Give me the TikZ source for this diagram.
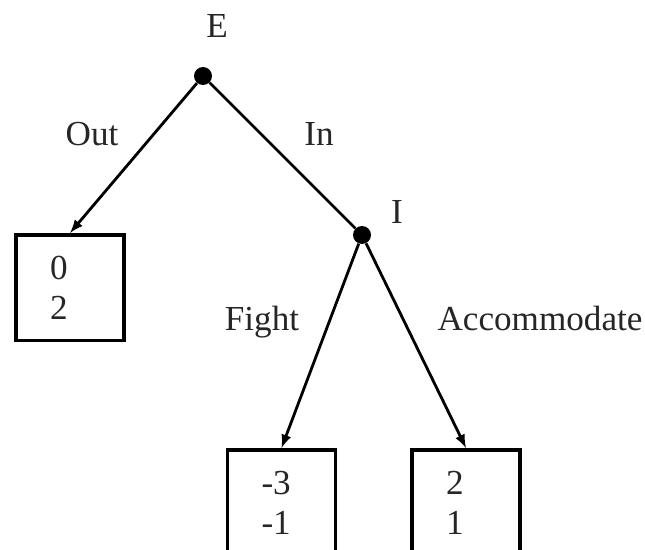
\documentclass[tikz,border=0pt]{standalone}
\usepackage{fontspec}
\setmainfont{Liberation Serif}
\usetikzlibrary{arrows}

\begin{document}
\begin{tikzpicture}[x=0.02cm, y=-0.02cm,
    decision/.style={circle, fill=black, minimum size=0.36cm, inner sep=0pt},
    payoff/.style={rectangle, draw=black, line width=2pt, anchor=north, minimum width=2.16cm, minimum height=2.12cm, text width=0.8cm, inner xsep=0.68cm, align=left, font=\fontsize{20}{22.7}\selectfont, text=black!85},
    move/.style={line width=1.6pt, -latex},
    lbl/.style={anchor=base, font=\fontsize{20}{24}\selectfont, text=black!85}]
    \clip (0,0) rectangle (645,550);
    \node (E) [decision] at (203,76) {};
    \node (I) [decision] at (362,235) {};
    \node (outbox) [payoff] at (70,233) {0\\2};
    \node (fightbox) [payoff] at (281.5,448) {-3\\-1};
    \node (accbox) [payoff] at (466,448) {2\\1};
    \draw [move] (E) -- (outbox.north);
    \draw [line width=1.6pt] (E) -- (I);
    \draw [move] (I) -- (fightbox.north);
    \draw [move] (I) -- (accbox.north);
    \node (labE) [lbl] at (217,38) {E};
    \node (labI) [lbl] at (397,224) {I};
    \node (labout) [lbl] at (92,146) {Out};
    \node (labin) [lbl] at (319,146) {In};
    \node (labfight) [lbl] at (262,330) {Fight};
    \node (labacc) [lbl] at (540,330) {Accommodate};
\end{tikzpicture}
\end{document}
